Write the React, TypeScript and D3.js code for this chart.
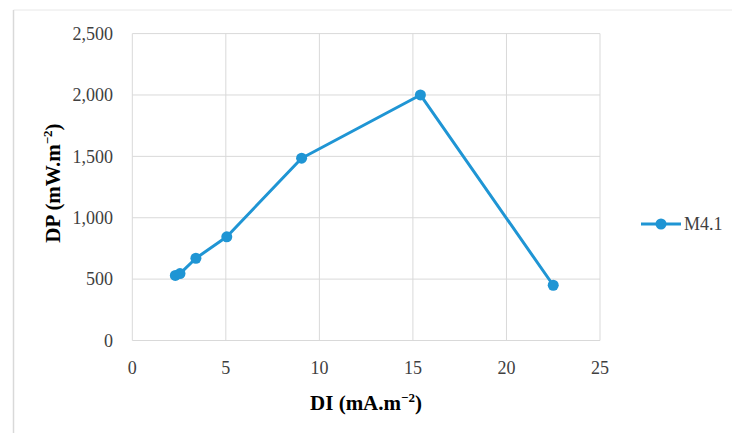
import React from "react";
import * as d3 from "d3";

const seriesName = "M4.1";
const diValues = [2.3, 2.55, 3.4, 5.05, 9.05, 15.4, 22.5];
const dpValues = [530, 545, 670, 845, 1485, 2000, 450];
const xTicks = [0, 5, 10, 15, 20, 25];
const yTicks = [0, 500, 1000, 1500, 2000, 2500];

const W = 732;
const H = 433;
const color = "#1f95d4";
const font = "'Liberation Serif', 'DejaVu Serif', serif";

export default function App() {
  const x = d3.scaleLinear().domain([0, 25]).range([132.3, 600]);
  const y = d3.scaleLinear().domain([0, 2500]).range([340.5, 33.6]);
  const pts = diValues.map((d, i) => [d, dpValues[i]] as [number, number]);
  const line = d3
    .line<[number, number]>()
    .x((d) => x(d[0]))
    .y((d) => y(d[1]));
  const fmt = d3.format(",");

  return (
    <svg
      width={W}
      height={H}
      style={{ position: "absolute", left: 0, top: 0, background: "#fff" }}
    >
      {/* outer frame */}
      <line x1={13.5} y1={10} x2={W} y2={10} stroke="#e8e8e8" strokeWidth={1} />
      <line x1={13.5} y1={10} x2={13.5} y2={H} stroke="#d9d9d9" strokeWidth={1.5} />

      {/* gridlines */}
      {yTicks.map((t) => (
        <line key={"gy" + t} x1={x(0)} x2={x(25)} y1={y(t)} y2={y(t)} stroke="#d9d9d9" strokeWidth={1} />
      ))}
      {xTicks.map((t) => (
        <line key={"gx" + t} x1={x(t)} x2={x(t)} y1={y(0)} y2={y(2500)} stroke="#d9d9d9" strokeWidth={1} />
      ))}

      {/* tick labels */}
      {yTicks.map((t) => (
        <text key={"ty" + t} x={113} y={y(t)} dy="0.35em" textAnchor="end" fontFamily={font} fontSize={18} fill="#404040">
          {fmt(t)}
        </text>
      ))}
      {xTicks.map((t) => (
        <text key={"tx" + t} x={x(t)} y={368} dy="0.35em" textAnchor="middle" fontFamily={font} fontSize={18} fill="#404040">
          {t}
        </text>
      ))}

      {/* axis titles */}
      <text x={366} y={410} textAnchor="middle" fontFamily={font} fontSize={21} fontWeight="bold" fill="#000">
        DI (mA.m<tspan dy={-8} fontSize={13}>−2</tspan><tspan dy={8}>)</tspan>
      </text>
      <text
        transform={`translate(60,${(y(0) + y(2500)) / 2 - 4}) rotate(-90)`}
        textAnchor="middle"
        fontFamily={font}
        fontSize={21}
        fontWeight="bold"
        fill="#000"
      >
        DP (mW.m<tspan dy={-8} fontSize={13}>−2</tspan><tspan dy={8}>)</tspan>
      </text>

      {/* series */}
      <path d={line(pts) || ""} fill="none" stroke={color} strokeWidth={3} strokeLinejoin="round" />
      {pts.map((p, i) => (
        <circle key={"c" + i} cx={x(p[0])} cy={y(p[1])} r={5.5} fill={color} />
      ))}

      {/* legend */}
      <line x1={641} x2={681} y1={224} y2={224} stroke={color} strokeWidth={3} />
      <circle cx={661} cy={224} r={5.5} fill={color} />
      <text x={684} y={224} dy="0.35em" fontFamily={font} fontSize={18} fill="#404040">
        {seriesName}
      </text>
    </svg>
  );
}
